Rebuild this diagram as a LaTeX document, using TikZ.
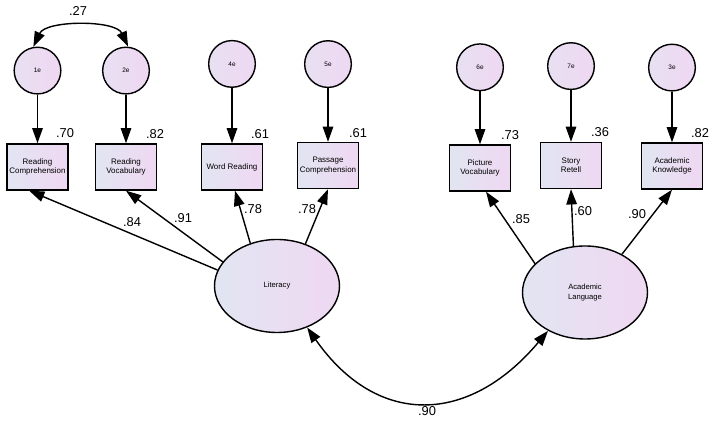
\documentclass[tikz,border=0pt]{standalone}
\usepackage{fontspec}
\setmainfont{Liberation Sans}
\usetikzlibrary{arrows.meta, positioning, shapes.geometric}
\definecolor{lavblue}{RGB}{226,229,242}
\definecolor{lavpink}{RGB}{239,216,242}

\begin{document}
\begin{tikzpicture}[
  x=0.03cm, y=0.03cm,
  obs/.style={rectangle, draw, line width=1.2pt, left color=lavblue, right color=lavpink,
              minimum width=1.83cm, minimum height=1.38cm, inner sep=1pt,
              font=\fontsize{6.8}{8}\selectfont, align=center},
  err/.style={circle, draw, line width=1.2pt, left color=lavblue!60!lavpink, right color=lavpink,
              minimum size=1.4cm, inner sep=0pt, font=\fontsize{5.5}{6}\selectfont},
  lat/.style={ellipse, draw, line width=1.2pt, left color=lavblue, right color=lavpink,
              minimum width=3.75cm, minimum height=2.79cm, inner sep=0pt,
              font=\fontsize{6.5}{8}\selectfont, align=center},
  load/.style={-{Triangle[length=13pt, width=9pt]}, line width=1.2pt},
  cov/.style={{Triangle[length=13pt, width=9pt]}-{Triangle[length=13pt, width=9pt]}, line width=1.2pt},
  coef/.style={font=\fontsize{11}{12}\selectfont, inner sep=0pt}
]
  \useasboundingbox (0,0) rectangle (714,422);

  % indicators
  \node[obs] (rc) at (37.5,255) {Reading\\Comprehension};
  \node[obs] (rv) at (126,255) {Reading\\Vocabulary};
  \node[obs] (wr) at (232,255) {Word Reading};
  \node[obs] (pc) at (328,256.5) {Passage\\Comprehension};
  \node[obs] (pv) at (480,254) {Picture\\Vocabulary};
  \node[obs] (sr) at (571,256.5) {Story\\Retell};
  \node[obs] (ak) at (672,256) {Academic\\Knowledge};

  % error terms
  \node[err, above=1.46cm of rc] (e1) {1e};
  \node[err, above=1.46cm of rv] (e2) {2e};
  \node[err, above=1.66cm of wr] (e4) {4e};
  \node[err, above=1.61cm of pc] (e5) {5e};
  \node[err, above=1.59cm of pv] (e6) {6e};
  \node[err, above=1.55cm of sr] (e7) {7e};
  \node[err, above=1.52cm of ak] (e3) {3e};

  % latent factors
  \node[lat] (lit) at (277,136) {Literacy};
  \node[lat] (al) at (585,129.5) {Academic\\Language};

  \draw[load] (e1) -- (rc);
  \draw[load] (e2) -- (rv);
  \draw[load] (e4) -- (wr);
  \draw[load] (e5) -- (pc);
  \draw[load] (e6) -- (pv);
  \draw[load] (e7) -- (sr);
  \draw[load] (e3) -- (ak);

  \draw[load] (lit.165) -- ([xshift=-0.25cm]rc.south);
  \draw[load] (lit.156) -- (rv.south);
  \draw[load] (lit.122) -- ([xshift=0.09cm]wr.south);
  \draw[load] (lit.56) -- (pc.south);
  \draw[load] (al.150) -- ([xshift=0.18cm]pv.south);
  \draw[load] (al.104) -- (sr.south);
  \draw[load] (al.46) -- (ak.south);

  \draw[cov] (e1.100) to[out=65, in=115, looseness=0.8] (e2.85);
  \draw[cov] (lit.-54) to[out=-55, in=-130, looseness=1.3] (al.-134);

  % estimates
  \node[coef] (r1) at (65,289) {.70};
  \node[coef] (r2) at (155,288) {.82};
  \node[coef] (r4) at (260,288) {.61};
  \node[coef] (r5) at (358,289) {.61};
  \node[coef] (r6) at (510,287) {.73};
  \node[coef] (r7) at (600,290) {.36};
  \node[coef] (r3) at (700,289) {.82};

  \node[coef] (l1) at (132,200) {.84};
  \node[coef] (l2) at (183,204) {.91};
  \node[coef] (l4) at (253,213) {.78};
  \node[coef] (l5) at (307,213) {.78};
  \node[coef] (l6) at (521,203) {.85};
  \node[coef] (l7) at (583,211) {.60};
  \node[coef] (l3) at (637,208) {.90};

  \node[coef] (c12) at (78,411) {.27};
  \node[coef] (cla) at (427,11) {.90};
\end{tikzpicture}
\end{document}
